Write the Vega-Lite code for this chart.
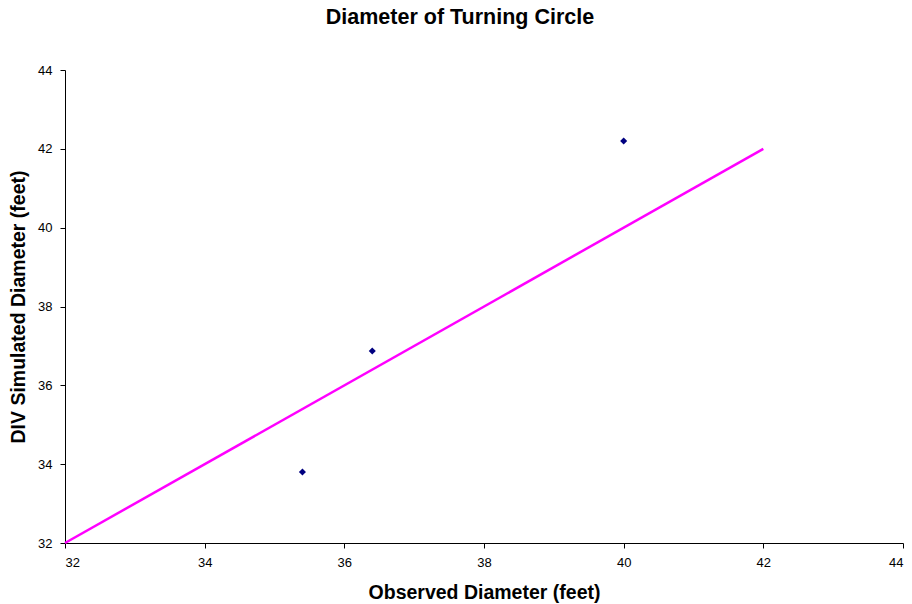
{
  "$schema": "https://vega.github.io/schema/vega-lite/v6.json",
  "autosize": {"type": "none"},
  "width": 838,
  "height": 473,
  "padding": {"left": 65, "top": 70, "right": 9, "bottom": 61},
  "background": "white",
  "config": {
    "view": {"stroke": null},
    "font": "Liberation Sans"
  },
  "title": {
    "text": "Diameter of Turning Circle",
    "font": "Liberation Sans",
    "fontSize": 21.5,
    "fontWeight": "bold",
    "color": "#000000",
    "anchor": "middle",
    "dx": -24,
    "offset": 36
  },
  "datasets": {
    "points": [
      {"observed": 35.4, "simulated": 33.8},
      {"observed": 36.4, "simulated": 36.87},
      {"observed": 40.0, "simulated": 42.2}
    ],
    "line": [
      {"observed": 32, "simulated": 32},
      {"observed": 42, "simulated": 42}
    ]
  },
  "layer": [
    {
      "data": {"name": "line"},
      "mark": {"type": "line", "color": "#FF00FF", "strokeWidth": 2.5, "clip": false},
      "encoding": {
        "x": {"field": "observed", "type": "quantitative"},
        "y": {"field": "simulated", "type": "quantitative"}
      }
    },
    {
      "data": {"name": "points"},
      "mark": {"type": "point", "shape": "diamond", "filled": true, "color": "#000080", "size": 50, "opacity": 1},
      "encoding": {
        "x": {
          "field": "observed",
          "type": "quantitative",
          "scale": {"domain": [32, 44], "nice": false, "zero": false},
          "axis": {
            "title": "Observed Diameter (feet)",
            "values": [32, 34, 36, 38, 40, 42, 44],
            "format": "d",
            "grid": false,
            "domainColor": "#000000",
            "tickColor": "#000000",
            "tickSize": 5,
            "labelFontSize": 13,
            "labelColor": "#000000",
            "labelPadding": 8,
            "titleFontSize": 19.5,
            "titleFontWeight": "bold",
            "titleColor": "#000000",
            "titlePadding": 14,
            "titleX": 419,
            "titleFont": "Liberation Sans",
            "labelFont": "Liberation Sans"
          }
        },
        "y": {
          "field": "simulated",
          "type": "quantitative",
          "scale": {"domain": [32, 44], "nice": false, "zero": false},
          "axis": {
            "title": "DIV Simulated Diameter (feet)",
            "values": [32, 34, 36, 38, 40, 42, 44],
            "format": "d",
            "grid": false,
            "domainColor": "#000000",
            "tickColor": "#000000",
            "tickSize": 5,
            "labelFontSize": 13,
            "labelColor": "#000000",
            "labelPadding": 8,
            "titleFontSize": 19.5,
            "titleFontWeight": "bold",
            "titleColor": "#000000",
            "titlePadding": 9,
            "titleFont": "Liberation Sans",
            "labelFont": "Liberation Sans"
          }
        }
      }
    }
  ]
}
